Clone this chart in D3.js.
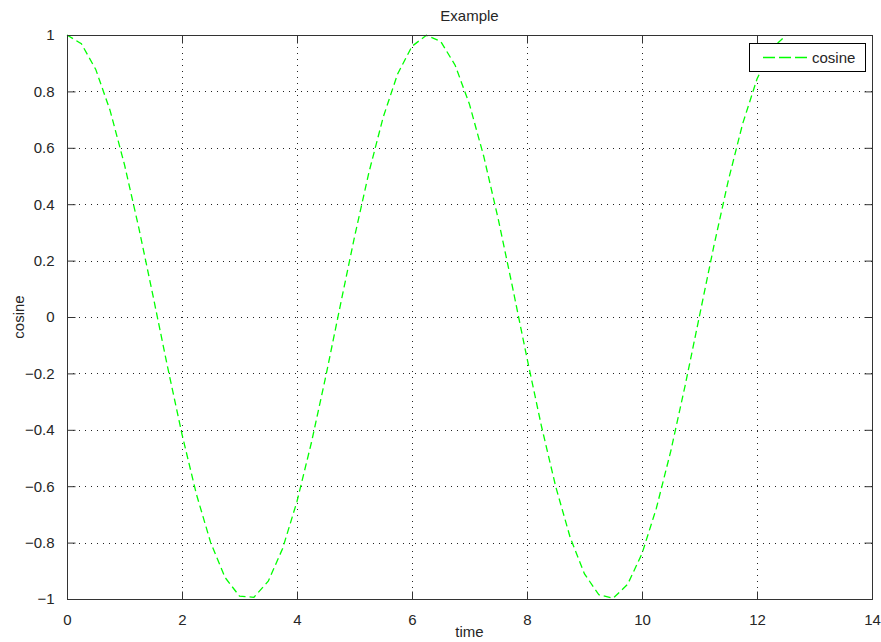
<!DOCTYPE html>
<html>
<head>
<meta charset="utf-8">
<script src="https://cdn.jsdelivr.net/npm/d3@7"></script>
<style>
html,body{margin:0;padding:0;background:#fff;}
svg{display:block;}
text{font-family:"Liberation Sans",Arial,Helvetica,sans-serif;fill:#262626;}
</style>
</head>
<body>
<svg id="chart" width="881" height="642"></svg>
<script>
const titleText = "Example";
const xLabel = "time";
const yLabel = "cosine";
const seriesName = "cosine";
const xTicks = [0, 2, 4, 6, 8, 10, 12, 14];
const yTicks = [-1, -0.8, -0.6, -0.4, -0.2, 0, 0.2, 0.4, 0.6, 0.8, 1];
const time = [0, 0.25, 0.5, 0.75, 1, 1.25, 1.5, 1.75, 2, 2.25, 2.5, 2.75, 3, 3.25, 3.5, 3.75, 4, 4.25, 4.5, 4.75, 5, 5.25, 5.5, 5.75, 6, 6.25, 6.5, 6.75, 7, 7.25, 7.5, 7.75, 8, 8.25, 8.5, 8.75, 9, 9.25, 9.5, 9.75, 10, 10.25, 10.5, 10.75, 11, 11.25, 11.5, 11.75, 12, 12.25, 12.5];
const cosine = [1, 0.969, 0.878, 0.732, 0.540, 0.315, 0.071, -0.178, -0.416, -0.628, -0.801, -0.924, -0.990, -0.994, -0.937, -0.821, -0.654, -0.446, -0.211, 0.038, 0.284, 0.512, 0.709, 0.862, 0.960, 0.999, 0.977, 0.893, 0.754, 0.568, 0.347, 0.104, -0.146, -0.386, -0.602, -0.781, -0.911, -0.985, -0.997, -0.948, -0.839, -0.678, -0.476, -0.243, 0.004, 0.252, 0.483, 0.685, 0.844, 0.950, 0.998];

const svg = d3.select("#chart");
const L = 67, R = 872, T = 35, B = 599;
const x = d3.scaleLinear().domain([0, 14]).range([L, R]);
const y = d3.scaleLinear().domain([-1, 1]).range([B, T]);
const axisColor = "#333";
const tickLen = 8;
const fs = 15;

// grid
const grid = svg.append("g");
grid.selectAll("line.vx").data(xTicks.slice(1, -1)).join("line")
  .attr("x1", d => Math.round(x(d)) + 0.5).attr("x2", d => Math.round(x(d)) + 0.5)
  .attr("y1", T).attr("y2", B)
  .attr("stroke", "#222").attr("stroke-width", 1).attr("stroke-dasharray", "1,5");
grid.selectAll("line.hy").data(yTicks.slice(1, -1)).join("line")
  .attr("y1", d => Math.round(y(d)) + 0.5).attr("y2", d => Math.round(y(d)) + 0.5)
  .attr("x1", L).attr("x2", R)
  .attr("stroke", "#222").attr("stroke-width", 1).attr("stroke-dasharray", "1,5");

// curve
const pts = time.map((t, i) => [t, cosine[i]]);
svg.append("path")
  .attr("d", d3.line().x(d => x(d[0])).y(d => y(d[1]))(pts))
  .attr("fill", "none").attr("stroke", "#00ff00").attr("stroke-width", 1.3)
  .attr("stroke-dasharray", "7,4");

// axes (box with inward ticks)
const gB = svg.append("g").attr("transform", `translate(0,${B + 0.5})`)
  .call(d3.axisBottom(x).tickValues(xTicks).tickSize(-tickLen).tickPadding(tickLen + 7).tickFormat(d3.format("d")));
const gT = svg.append("g").attr("transform", `translate(0,${T + 0.5})`)
  .call(d3.axisTop(x).tickValues(xTicks).tickSize(-tickLen).tickFormat(""));
const gLft = svg.append("g").attr("transform", `translate(${L + 0.5},0)`)
  .call(d3.axisLeft(y).tickValues(yTicks).tickSize(-tickLen).tickPadding(tickLen + 5).tickFormat(d => d3.format("")(+d.toFixed(1))));
const gRt = svg.append("g").attr("transform", `translate(${R + 0.5},0)`)
  .call(d3.axisRight(y).tickValues(yTicks).tickSize(-tickLen).tickFormat(""));
[gB, gT, gLft, gRt].forEach(g => {
  g.select(".domain").remove();
  g.selectAll(".tick line").attr("stroke", axisColor);
  g.selectAll(".tick text").attr("fill", "#262626").style("font-size", fs + "px")
    .style("font-family", '"Liberation Sans", Arial, sans-serif');
});
svg.append("rect").attr("x", L + 0.5).attr("y", T + 0.5).attr("width", R - L).attr("height", B - T)
  .attr("fill", "none").attr("stroke", axisColor).attr("stroke-width", 1);

// labels
svg.append("text").attr("x", (L + R) / 2).attr("y", 21).attr("text-anchor", "middle")
  .style("font-size", fs + "px").text(titleText);
svg.append("text").attr("x", (L + R) / 2).attr("y", 637).attr("text-anchor", "middle")
  .style("font-size", fs + "px").text(xLabel);
svg.append("text").attr("transform", `translate(24,${(T + B) / 2}) rotate(-90)`)
  .attr("text-anchor", "middle").style("font-size", fs + "px").text(yLabel);

// legend
const lg = svg.append("g");
lg.append("rect").attr("x", 749.5).attr("y", 43.5).attr("width", 116).attr("height", 28)
  .attr("fill", "#fff").attr("stroke", "#000").attr("stroke-width", 1);
lg.append("line").attr("x1", 763).attr("x2", 808).attr("y1", 57.5).attr("y2", 57.5)
  .attr("stroke", "#00ff00").attr("stroke-width", 1.3).attr("stroke-dasharray", "12,4");
lg.append("text").attr("x", 812).attr("y", 63).style("font-size", fs + "px").text(seriesName);
</script>
</body>
</html>
